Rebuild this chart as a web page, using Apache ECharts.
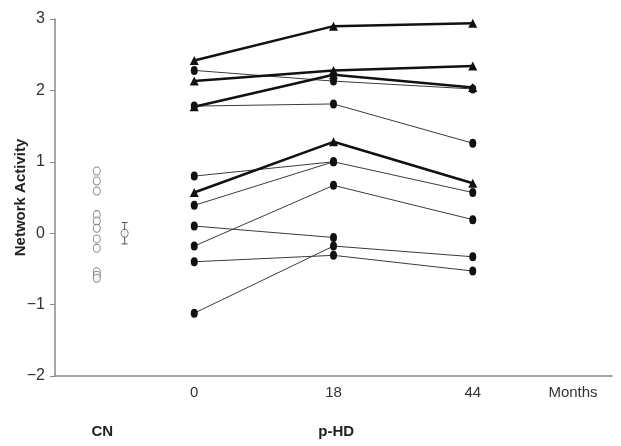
<!DOCTYPE html>
<html>
<head>
<meta charset="UTF-8">
<title>Network Activity</title>
<script src="https://cdn.jsdelivr.net/npm/echarts@6/dist/echarts.min.js"></script>
</head>
<body style="margin:0">
<div id="main" style="width:621px;height:446px;"></div>
<script type="text/javascript">
// months of follow-up for the p-HD group
var months = [0, 18, 44];

// p-HD subjects, thick lines with triangles
var thickSubjects = [
    [2.42, 2.90, 2.94],
    [2.13, 2.28, 2.34],
    [1.77, 2.22, 2.04],
    [0.57, 1.28, 0.70]
];

// p-HD subjects, thin lines with circles (null = no scan)
var thinSubjects = [
    [2.28, 2.13, 2.02],
    [1.78, 1.81, 1.26],
    [0.80, 1.00, 0.57],
    [0.39, 1.00, null],
    [0.10, -0.06, null],
    [-0.18, 0.67, 0.19],
    [-0.40, -0.31, -0.53],
    [-1.12, -0.18, -0.33]
];

// control subjects
var cnValues = [0.87, 0.73, 0.59, 0.26, 0.17, 0.07, -0.08, -0.21, -0.54, -0.59, -0.63];
var cnMean = 0.0;
var cnSE = 0.15;

var yTicks = [-2, -1, 0, 1, 2, 3];

// x axis layout: months sit at 1,2,3; controls sit left of them
var cnPos = 0.3;
var cnMeanPos = 0.5;
var monthsLabelPos = 3.72;
var groupLabels = ['CN', 'p-HD'];
var groupPos = [0.34, 2.02];

var FONT = 'Liberation Sans, Arial, sans-serif';

function toPoints(vals) {
    return vals.map(function (v, i) { return [i + 1, v]; });
}

var series = [];
thinSubjects.forEach(function (s) {
    series.push({
        type: 'line',
        data: toPoints(s),
        symbol: 'circle',
        symbolSize: [7, 9],
        lineStyle: { width: 1, color: '#3a3a3a' },
        itemStyle: { color: '#111' },
        silent: true,
        z: 2
    });
});
thickSubjects.forEach(function (s) {
    series.push({
        type: 'line',
        data: toPoints(s),
        symbol: 'triangle',
        symbolSize: 9,
        lineStyle: { width: 2.5, color: '#111' },
        itemStyle: { color: '#111' },
        silent: true,
        z: 3
    });
});
series.push({
    type: 'scatter',
    data: cnValues.map(function (v) { return [cnPos, v]; }),
    symbol: 'circle',
    symbolSize: [7, 8],
    itemStyle: { color: '#fff', borderColor: '#666', borderWidth: 1 },
    silent: true
});
series.push({
    type: 'custom',
    data: [[cnMeanPos, cnMean + cnSE, cnMean - cnSE]],
    renderItem: function (params, api) {
        var top = api.coord([api.value(0), api.value(1)]);
        var bot = api.coord([api.value(0), api.value(2)]);
        var st = { stroke: '#555', lineWidth: 1 };
        return {
            type: 'group',
            children: [
                { type: 'line', shape: { x1: top[0], y1: top[1], x2: bot[0], y2: bot[1] }, style: st },
                { type: 'line', shape: { x1: top[0] - 3, y1: top[1], x2: top[0] + 3, y2: top[1] }, style: st },
                { type: 'line', shape: { x1: bot[0] - 3, y1: bot[1], x2: bot[0] + 3, y2: bot[1] }, style: st }
            ]
        };
    },
    silent: true,
    z: 1
});
series.push({
    type: 'scatter',
    data: [[cnMeanPos, cnMean]],
    symbol: 'circle',
    symbolSize: [7, 8],
    itemStyle: { color: '#fff', borderColor: '#555', borderWidth: 1 },
    silent: true,
    z: 4
});

var chart = echarts.init(document.getElementById('main'));
chart.setOption({
    animation: false,
    grid: { left: 55, right: 9, top: 19, bottom: 70, outerBoundsMode: 'none' },
    xAxis: [{
        type: 'value',
        min: 0,
        max: 4,
        axisLine: { onZero: false, lineStyle: { color: '#888', width: 1.5 } },
        axisTick: { show: false },
        splitLine: { show: false },
        axisLabel: {
            customValues: [1, 2, 3, monthsLabelPos],
            margin: 9,
            fontFamily: FONT,
            fontSize: 15,
            color: '#333',
            formatter: function (v) {
                if (v === monthsLabelPos) return 'Months';
                return String(months[Math.round(v) - 1]);
            }
        }
    }, {
        type: 'value',
        position: 'bottom',
        offset: 40,
        min: 0,
        max: 4,
        axisLine: { show: false, onZero: false },
        axisTick: { show: false },
        splitLine: { show: false },
        axisLabel: {
            customValues: groupPos,
            fontFamily: FONT,
            fontSize: 15,
            fontWeight: 'bold',
            color: '#222',
            formatter: function (v) {
                return groupLabels[groupPos.indexOf(v)];
            }
        }
    }],
    yAxis: {
        type: 'value',
        min: yTicks[0],
        max: yTicks[yTicks.length - 1],
        interval: 1,
        name: 'Network Activity',
        nameLocation: 'middle',
        nameGap: 27,
        nameMoveOverlap: false,
        nameTextStyle: { fontFamily: FONT, fontSize: 15, fontWeight: 'bold', color: '#222' },
        axisLine: { show: true, onZero: false, lineStyle: { color: '#888', width: 1.5 } },
        axisTick: { show: true, length: 5, lineStyle: { color: '#888' } },
        splitLine: { show: false },
        axisLabel: {
            margin: 10,
            fontFamily: FONT,
            fontSize: 16,
            color: '#333',
            formatter: function (v) { return String(v).replace('-', '\u2212'); }
        }
    },
    series: series
});
</script>
</body>
</html>
